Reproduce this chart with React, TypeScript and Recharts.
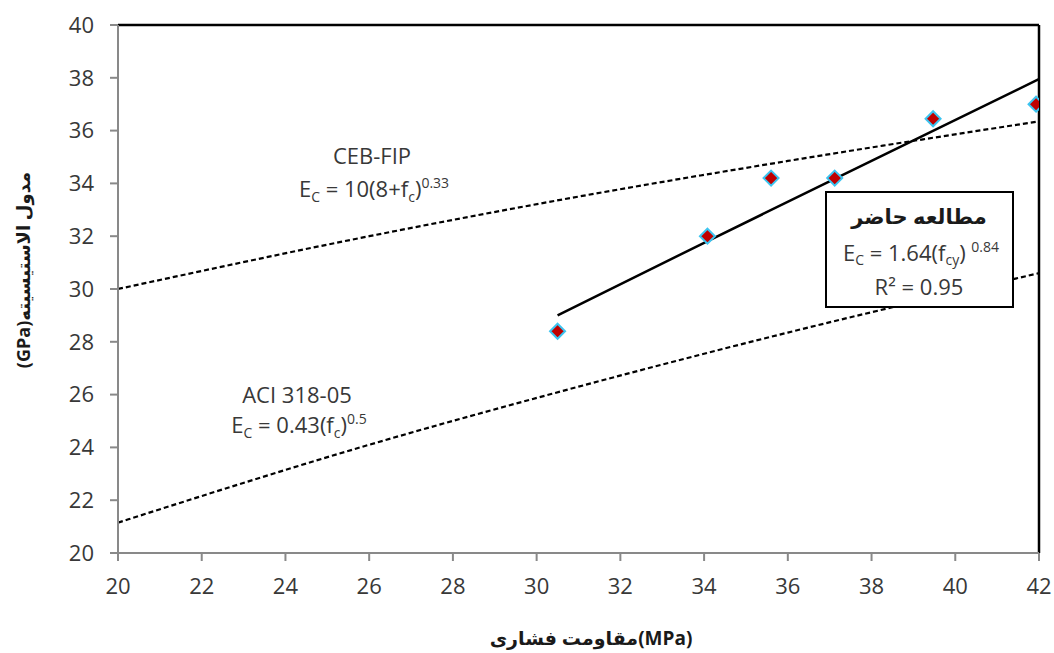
import { ComposedChart, Line, Scatter, XAxis, YAxis, ReferenceLine } from "recharts";

const xTicks = [20, 22, 24, 26, 28, 30, 32, 34, 36, 38, 40, 42];
const yTicks = [20, 22, 24, 26, 28, 30, 32, 34, 36, 38, 40];

// measured points
const measX = [30.5, 34.08, 35.6, 37.12, 39.47, 41.93];
const measY = [28.4, 32.0, 34.2, 34.2, 36.45, 37.0];

// present-study fit
const fitX = [30.5, 34, 38, 42];
const fitY = [29.0, 31.75, 34.85, 37.95];

// CEB-FIP
const cebX = [20, 26, 31, 36, 42];
const cebY = [30.0, 32.0, 33.5, 34.85, 36.35];

// ACI 318-05
const aciX = [20, 26, 31, 36, 42];
const aciY = [21.15, 24.1, 26.3, 28.35, 30.6];

const zip = (xs: number[], ys: number[]) => xs.map((x, i) => ({ x, y: ys[i] }));

const FONT = "'Open Sans', 'DejaVu Sans', sans-serif";
const AXIS = "#898989";
const TXT = "#383838";

const Diamond = (p: any) => {
  const { cx, cy } = p;
  const r = 7.5;
  return (
    <polygon
      points={`${cx},${cy - r} ${cx + r},${cy} ${cx},${cy + r} ${cx - r},${cy}`}
      fill="#C00000"
      stroke="#3CC4F0"
      strokeWidth={2}
    />
  );
};

export default function App() {
  const tick = { fill: TXT, fontSize: 22, fontFamily: FONT };
  return (
    <div style={{ position: "absolute", left: 0, top: 0, width: 1054, height: 653, background: "#fff" }}>
      <ComposedChart width={1054} height={653} margin={{ top: 25, right: 15, bottom: 0, left: 0 }}>
        <XAxis
          type="number"
          dataKey="x"
          domain={[20, 42]}
          ticks={xTicks}
          interval={0}
          allowDataOverflow
          height={100}
          stroke={AXIS}
          strokeWidth={2}
          tickSize={8}
          tickMargin={17}
          tickLine={{ stroke: AXIS, strokeWidth: 2 }}
          tick={tick}
        />
        <YAxis
          type="number"
          domain={[20, 40]}
          ticks={yTicks}
          interval={0}
          allowDataOverflow
          width={118}
          stroke={AXIS}
          strokeWidth={2}
          tickSize={8}
          tickMargin={16}
          tickLine={{ stroke: AXIS, strokeWidth: 2 }}
          tick={tick}
        />
        <ReferenceLine y={40} stroke="#000" strokeWidth={2.5} />
        <ReferenceLine x={42} stroke="#000" strokeWidth={2.5} />
        <Line data={zip(aciX, aciY)} dataKey="y" type="monotone" stroke="#000" strokeWidth={2.2}
          strokeDasharray="5 3" dot={false} isAnimationActive={false} />
        <Line data={zip(cebX, cebY)} dataKey="y" type="monotone" stroke="#000" strokeWidth={2.2}
          strokeDasharray="5 3" dot={false} isAnimationActive={false} />
        <Line data={zip(fitX, fitY)} dataKey="y" type="monotone" stroke="#000" strokeWidth={2.5}
          dot={false} isAnimationActive={false} />
        <Scatter data={zip(measX, measY)} dataKey="y" shape={Diamond} isAnimationActive={false} />
      </ComposedChart>

      <svg width={1054} height={653} style={{ position: "absolute", left: 0, top: 0, pointerEvents: "none" }}
        fontFamily={FONT}>
        {/* CEB-FIP */}
        <text x={372} y={164} textAnchor="middle" fontSize={22} fill={TXT}>CEB-FIP</text>
        <text x={374} y={197} textAnchor="middle" fontSize={22} fill={TXT}>
          E<tspan fontSize={14} dy={5}>C</tspan>
          <tspan dy={-5}> = 10(8+f</tspan>
          <tspan fontSize={14} dy={5}>c</tspan>
          <tspan dy={-5}>)</tspan>
          <tspan fontSize={14} dy={-9}>0.33</tspan>
        </text>

        {/* ACI */}
        <text x={297} y={403} textAnchor="middle" fontSize={22} fill={TXT}>ACI 318-05</text>
        <text x={299} y={433} textAnchor="middle" fontSize={22} fill={TXT}>
          E<tspan fontSize={14} dy={5}>C</tspan>
          <tspan dy={-5}> = 0.43(f</tspan>
          <tspan fontSize={14} dy={5}>c</tspan>
          <tspan dy={-5}>)</tspan>
          <tspan fontSize={14} dy={-9}>0.5</tspan>
        </text>

        {/* present study box */}
        <rect x={826} y={192} width={187} height={115} fill="#fff" stroke="#000" strokeWidth={2} />
        <text x={919} y={224} textAnchor="middle" fontSize={21} fontWeight="bold" fill="#1a1a1a" direction="rtl">
          مطالعه حاضر
        </text>
        <text x={921} y={261} textAnchor="middle" fontSize={22} fill={TXT}>
          E<tspan fontSize={14} dy={4}>C</tspan>
          <tspan dy={-4}> = 1.64(f</tspan>
          <tspan fontSize={14} dy={4}>cy</tspan>
          <tspan dy={-4}>) </tspan>
          <tspan fontSize={14} dy={-9}>0.84</tspan>
        </text>
        <text x={919} y={295} textAnchor="middle" fontSize={22} fill={TXT}>R² = 0.95</text>

        {/* axis titles */}
        <text transform="translate(30,270) rotate(-90)" textAnchor="middle" direction="rtl"
          fontSize={18} fontWeight="bold" fill="#1a1a1a">
          مدول الاستیسیته(GPa)
        </text>
        <text x={591} y={645} textAnchor="middle" fontSize={19} fontWeight="bold" fill="#1a1a1a">
          مقاومت فشاری(MPa)
        </text>
      </svg>
    </div>
  );
}
